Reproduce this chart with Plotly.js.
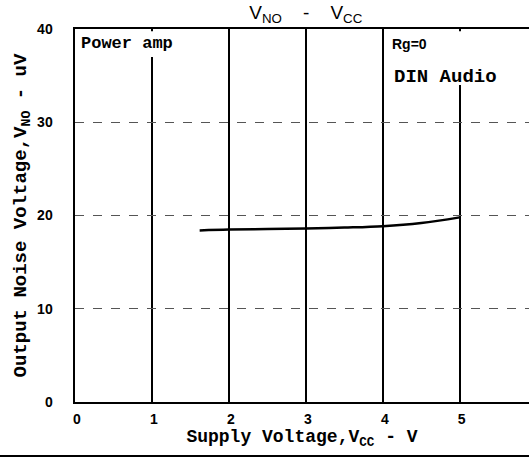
<!DOCTYPE html>
<html>
<head>
<meta charset="utf-8">
<script src="https://cdn.plot.ly/plotly-3.0.1.min.js"></script>
<style>
html,body{margin:0;padding:0;background:#fff;}
#chart{width:529px;height:460px;}
</style>
</head>
<body>
<div id="chart"></div>
<script>
// Data
const supplyVoltage = [1.62, 2.0, 2.5, 3.0, 3.5, 4.0, 4.5, 5.0];
const noiseVoltage  = [18.4, 18.5, 18.55, 18.6, 18.7, 18.85, 19.2, 19.8];
const xTickVals = [0, 1, 2, 3, 4, 5];
const xTickText = ['0', '1', '2', '3', '4', '5'];
const yTickVals = [0, 10, 20, 30, 40];
const yTickText = ['0', '10', '20', '30', '40'];

const mono = 'Liberation Mono, Courier New, monospace';
const sans = 'Liberation Sans, Arial, sans-serif';

const trace = {
  x: supplyVoltage,
  y: noiseVoltage,
  mode: 'lines',
  line: {color: '#000', width: 2.5, shape: 'spline'},
  hoverinfo: 'skip',
  showlegend: false
};

const layout = {
  width: 529,
  height: 460,
  margin: {l: 75, r: 0, t: 29, b: 58},
  paper_bgcolor: '#fff',
  plot_bgcolor: '#fff',
  title: {
    text: 'V<sub>NO</sub>    -    V<sub>CC</sub>',
    font: {family: sans, size: 19, color: '#000'},
    x: 0.578, xanchor: 'center',
    y: 0.987, yanchor: 'top'
  },
  xaxis: {
    range: [0, 5.9],
    tickvals: xTickVals,
    ticktext: xTickText,
    showgrid: true,
    gridcolor: '#000',
    gridwidth: 2.5,
    zeroline: false,
    showline: true,
    linecolor: '#000',
    linewidth: 2,
    mirror: true,
    ticks: '',
    ticklabelstandoff: 3,
    ticklabelshift: 2,
    tickfont: {family: sans, size: 14, color: '#000', weight: 'bold'},
    title: {
      text: 'Supply Voltage,V<sub>CC</sub> - V',
      font: {family: mono, size: 18, color: '#000', weight: 'bold'},
      standoff: 0
    },
    fixedrange: true
  },
  yaxis: {
    range: [0, 40],
    tickvals: yTickVals,
    ticktext: yTickText,
    showgrid: true,
    gridcolor: '#555',
    gridwidth: 1,
    griddash: 'dash',
    zeroline: false,
    showline: true,
    linecolor: '#000',
    linewidth: 2.5,
    mirror: false,
    ticks: '',
    ticklabelstandoff: 17,
    tickfont: {family: sans, size: 14, color: '#000', weight: 'bold'},
    title: {
      text: 'Output Noise Voltage,V<sub>NO</sub> - uV',
      font: {family: mono, size: 19, color: '#000', weight: 'bold'},
      standoff: 6
    },
    fixedrange: true
  },
  shapes: [
    {type: 'rect', xref: 'x', yref: 'y', x0: 0.05, x1: 1.5, y0: 37.0, y1: 39.75,
     fillcolor: '#fff', line: {width: 0}, layer: 'above'},
    {type: 'rect', xref: 'x', yref: 'y', x0: 4.15, x1: 5.9, y0: 34.0, y1: 39.75,
     fillcolor: '#fff', line: {width: 0}, layer: 'above'},
    {type: 'line', xref: 'paper', yref: 'paper', x0: -0.17, x1: 1, y0: -0.145, y1: -0.145,
     line: {color: '#000', width: 2}}
  ],
  annotations: [
    {text: 'Power amp', xref: 'x', yref: 'y', x: 0.05, y: 38.4, xanchor: 'left', yanchor: 'middle',
     showarrow: false, font: {family: mono, size: 17, color: '#000', weight: 'bold'}},
    {text: 'Rg=0', xref: 'x', yref: 'y', x: 4.1, y: 38.4, xanchor: 'left', yanchor: 'middle',
     showarrow: false, font: {family: sans, size: 14, color: '#000', weight: 'bold'}},
    {text: 'DIN Audio', xref: 'x', yref: 'y', x: 4.12, y: 34.9, xanchor: 'left', yanchor: 'middle',
     showarrow: false, font: {family: mono, size: 19, color: '#000', weight: 'bold'}}
  ]
};

Plotly.newPlot('chart', [trace], layout, {displayModeBar: false, staticPlot: true});
</script>
</body>
</html>
